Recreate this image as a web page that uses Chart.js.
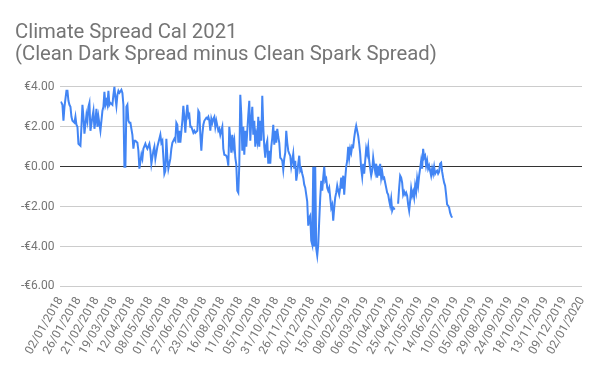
<!DOCTYPE html>
<html lang="en">
<head>
  <meta charset="UTF-8">
  <title>Climate Spread Cal 2021</title>
  <script src="https://cdn.jsdelivr.net/npm/chart.js"></script>
  <style>
    body {
      margin: 0;
      background: #fff;
    }
    #wrap {
      width: 600px;
      height: 371px;
    }
  </style>
</head>
<body>
  <div id="wrap"><canvas id="chart" width="600" height="371"></canvas></div>

  <script>
    // date labels shown under the x axis, one every 18 business days
    const tickLabels = [
      '02/01/2018', '26/01/2018', '21/02/2018', '19/03/2018', '12/04/2018', '08/05/2018',
      '01/06/2018', '27/06/2018', '23/07/2018', '16/08/2018', '11/09/2018', '05/10/2018',
      '31/10/2018', '26/11/2018', '20/12/2018', '15/01/2019', '08/02/2019', '06/03/2019',
      '01/04/2019', '25/04/2019', '21/05/2019', '14/06/2019', '10/07/2019', '05/08/2019',
      '29/08/2019', '24/09/2019', '18/10/2019', '13/11/2019', '09/12/2019', '02/01/2020'
    ];
    const labelStep = 18;

    // business day number since 02/01/2018
    const days = [
      0, 1, 2, 3, 4, 6, 7, 8, 9, 10, 11, 12, 14, 15, 16, 17, 18, 19, 20, 21,
      22, 23, 24, 26, 27, 28, 29, 30, 32, 33, 34, 35, 36, 37, 38, 40, 41, 42, 43, 44,
      45, 46, 47, 48, 49, 50, 52, 53, 54, 55, 56, 57, 58, 59, 61, 62, 63, 64, 65, 66,
      67, 68, 69, 70, 72, 73, 74, 75, 77, 78, 79, 81, 82, 83, 85, 86, 87, 89, 90, 91,
      93, 94, 95, 97, 98, 100, 101, 102, 104, 105, 106, 107, 108, 110, 111, 112, 114, 115, 116, 117,
      118, 119, 120, 122, 123, 124, 125, 126, 127, 128, 129, 130, 131, 133, 134, 135, 137, 138, 139, 140,
      141, 142, 143, 144, 146, 147, 148, 149, 150, 151, 152, 153, 154, 155, 156, 158, 159, 160, 162, 163,
      164, 166, 167, 168, 169, 170, 171, 172, 173, 174, 175, 176, 177, 178, 179, 180, 181, 182, 183, 184,
      185, 186, 187, 188, 189, 190, 191, 192, 193, 194, 195, 196, 197, 198, 199, 200, 201, 202, 203, 204,
      205, 206, 207, 208, 209, 210, 211, 212, 213, 214, 215, 216, 217, 218, 219, 220, 221, 222, 223, 224,
      225, 226, 227, 228, 229, 230, 231, 232, 233, 234, 235, 236, 237, 238, 239, 240, 241, 242, 243, 244,
      245, 246, 247, 248, 249, 250, 251, 252, 253, 254, 255, 256, 257, 258, 259, 260, 261, 262, 263, 264,
      265, 266, 267, 268, 269, 270, 271, 272, 273, 274, 275, 276, 277, 278, 279, 280, 281, 282, 283, 284,
      285, 286, 287, 288, 289, 290, 291, 292, 293, 294, 295, 296, 297, 298, 299, 300, 301, 302, 303, 304,
      305, 306, 307, 308, 309, 310, 311, 312, 313, 314, 315, 316, 317, 318, 319, 320, 321, 322, 323, 324,
      325, 326, 327, 328, 329, 330, 331, 332, 333, 334, 335, 336, 337, 338, 339, 340, 341, 342, 343, 344,
      345, 346, 347, 348, 349, 350, 351, 352, 353, 354, 355, 356, 357, 358, 359, 360, 361, 362, 363, 364,
      365, 366, 367, 368, 369, 370, 371, 372, 373, 374, 375, 376, 377, 378, 379, 380, 381, 382, 383, 384,
      385, 386, 387, 388, 389, 390, 391, 392
    ];

    // clean dark spread minus clean spark spread, EUR (null = no quote)
    const spread = [
      3.25, 3.2, 3.1, 2.3, 3.0, 3.8, 3.8, 3.3, 3.1, 3.0, 2.5, 2.3, 2.2, 2.5, 2.1, 2.0, 1.15, 1.1, 1.05, 2.0,
      3.1, 2.5, 1.65, 2.6, 2.3, 3.0, 3.2, 1.8, 2.5, 2.8, 1.9, 2.3, 2.9, 2.0, 2.5, 1.8, 2.3, 2.8, 3.0, 3.75,
      3.1, 3.3, 3.1, 3.8, 3.1, 3.2, 3.1, 3.6, 4.0, 3.45, 3.05, 3.6, 3.8, 3.7, 3.85, 3.7, 3.1, 0.0, 0.0, 3.0,
      3.1, 2.3, 2.2, 2.2, 1.6, 0.9, 1.3, 1.3, 1.2, 0.8, -0.1, 0.6, 0.4, 0.9, 1.15, 1.0, 0.9, 1.15, 0.8, 0.15,
      0.8, 1.0, 0.4, 1.0, 1.2, 1.6, 1.2, 1.3, -0.35, -0.2, 1.4, 0.45, -0.1, 0.4, 0.9, 1.2, 1.4, 1.3, 2.2, 2.1,
      1.2, 1.8, 1.2, 2.3, 3.05, 2.45, 1.7, 2.6, 3.1, 2.5, 2.6, 2.0, 2.0, 1.7, 1.8, 1.7, 1.8, 2.8, 2.7, 1.6,
      0.8, 1.6, 2.1, 2.3, 2.45, 2.4, 2.5, 2.3, 1.8, 2.4, 2.2, 2.4, 2.5, 2.0, 2.3, 1.8, 1.9, 1.6, 2.0, 0.9,
      0.6, 0.55, 0.4, 0.05, 2.0, 1.4, 0.7, 1.6, 1.0, 1.3, 0.45, 0.1, -1.2, -1.3, 0.1, 3.6, 2.6, 0.8, 2.0, 0.6,
      1.8, 1.0, 1.8, 2.6, 3.3, 1.3, 2.3, 3.0, 1.6, 2.3, 1.0, 1.6, 1.3, 2.5, 1.0, 2.3, 1.3, 3.55, 2.0, 1.0,
      0.45, 1.1, 1.3, 0.15, 0.8, 0.15, 1.0, 1.45, 2.1, 1.1, 1.8, 1.2, 1.9, 1.5, 1.2, 0.45, 0.4, 0.3, -0.15, 0.4,
      0.7, 1.8, 1.2, 0.8, 0.65, 0.55, 0.0, 0.3, 0.65, -0.1, 0.3, -0.7, -0.35, 0.15, 0.55, -0.2, -0.1, -0.35, -0.55, -0.9,
      -1.05, -1.4, -1.75, -2.95, -2.55, -2.45, -3.7, -3.9, 0.0, -4.0, 0.0, -4.1, -4.45, -3.9, -2.7, -1.55, -0.7, -1.2, -0.55, 0.0,
      -0.7, -0.6, -1.05, -1.2, -1.05, -1.55, -2.05, -1.9, -2.7, -2.05, -1.55, -1.3, -0.95, -1.2, -1.4, -1.05, -0.55, -1.1, -0.45, -1.4,
      -0.6, 0.0, 0.3, 1.0, 0.45, 0.9, 0.7, 1.05, 1.0, 1.45, 1.8, 2.05, 1.8, 1.55, 1.15, 0.65, -0.1, -0.5, 0.15, -0.35,
      0.3, 0.9, 0.65, 1.0, 0.3, -0.1, -0.45, -0.2, 0.45, 0.05, -0.25, 0.15, -0.55, 0.05, -0.45, 0.15, -0.55, -0.25, -0.6, -0.55,
      -0.8, -1.05, -1.3, -1.4, -1.7, -1.95, -1.6, -2.2, -2.05, -2.1, -2.1, null, -1.8, -1.8, -1.05, -0.45, -0.55, -0.8, -1.4, -1.25,
      -1.4, -1.3, -1.45, -1.9, -2.2, -1.7, -1.1, -1.45, -1.25, -1.55, -0.95, -1.25, -0.6, -0.95, -0.45, -0.1, 0.3, -0.1, 0.9, 0.45,
      0.55, 0.05, 0.3, -0.1, 0.05, -0.2, -0.45, -0.1, -0.35, 0.0, -0.35, -0.25, -0.2, -0.35, -0.25, 0.15, 0.2, -0.25, -0.55, -0.8,
      -0.95, -1.4, -1.9, -1.95, -2.05, -2.3, -2.45, -2.55
    ];

    const yTicks = { min: -6, max: 4, step: 2 };

    const textGrey = '#757575';
    const font = 'Roboto, "Noto Sans", sans-serif';

    const ctx = document.getElementById('chart').getContext('2d');
    new Chart(ctx, {
      type: 'line',
      data: {
        datasets: [{
          data: days.map((d, i) => ({ x: d, y: spread[i] })),
          borderColor: '#4285F4',
          borderWidth: 2,
          pointRadius: 0,
          tension: 0,
          spanGaps: false
        }]
      },
      options: {
        responsive: false,
        animation: false,
        devicePixelRatio: 1,
        layout: {
          padding: { left: 15, right: 18, top: 0, bottom: 6 }
        },
        plugins: {
          legend: { display: false },
          tooltip: { enabled: false },
          title: {
            display: true,
            align: 'start',
            text: ['Climate Spread Cal 2021', '(Clean Dark Spread minus Clean Spark Spread)'],
            color: textGrey,
            font: { family: font, size: 20.3, weight: 'normal', lineHeight: 1.08 },
            padding: { top: 22, bottom: 21 }
          }
        },
        scales: {
          x: {
            type: 'linear',
            min: 0,
            max: labelStep * (tickLabels.length - 1),
            grid: { display: false, drawTicks: false },
            border: { display: false },
            // rotated labels hang to the left, no extra room needed on the right
            afterFit: s => { s.paddingRight = 0; },
            ticks: {
              stepSize: labelStep,
              autoSkip: false,
              minRotation: 60,
              maxRotation: 60,
              padding: 8,
              color: textGrey,
              font: { family: font, size: 12 },
              callback: v => tickLabels[Math.round(v / labelStep)]
            }
          },
          y: {
            min: yTicks.min,
            max: yTicks.max,
            grid: {
              drawTicks: false,
              color: c => c.tick.value === 0 ? '#333333' : '#cccccc'
            },
            border: { display: false },
            ticks: {
              stepSize: yTicks.step,
              padding: 6,
              color: textGrey,
              font: { family: font, size: 12 },
              callback: v => (v < 0 ? '-' : '') + '€' + Math.abs(v).toFixed(2)
            }
          }
        }
      }
    });
  </script>
</body>
</html>
